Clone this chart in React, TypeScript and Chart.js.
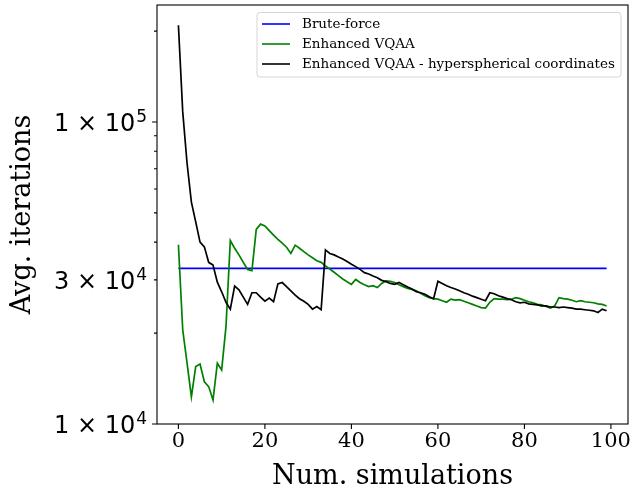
import React, { useEffect, useRef } from "react";
import { Chart, registerables } from "chart.js";

Chart.register(...registerables);

// ---------- data ----------
const simulations: number[] = Array.from({ length: 100 }, (_, i) => i);

const bruteForceValue = 32768;

const enhancedVQAA: number[] = [
  39200, 20500, 15900, 12300, 15500, 15800, 13800, 13300, 12000, 15900,
  15100, 21000, 40500, 38200, 36300, 34300, 32500, 32200, 44100, 45900,
  45300, 43700, 42200, 40900, 39700, 38500, 36700, 39100, 38200, 37200,
  36300, 35500, 34700, 34300, 33400, 32600, 31800, 31000, 30200, 29600,
  29000, 30100, 29400, 28900, 28500, 28700, 28300, 29200, 29800, 29700,
  29400, 28900, 28500, 28100, 27900, 27600, 27100, 26600, 26200, 26000,
  25900, 25600, 25300, 25900, 25700, 25800, 25500, 25200, 24900, 24600,
  24300, 24200, 25300, 26000, 25900, 25900, 25800, 25900, 26200, 26000,
  25700, 25400, 25200, 24900, 24800, 24500, 24200, 24600, 26200, 26000,
  25900, 25700, 25400, 25600, 25400, 25300, 25200, 25000, 24900, 24600,
];

const hypersphericalVQAA: number[] = [
  209000, 108000, 73000, 54300, 46700, 40000, 38600, 34300, 33600, 29500,
  27400, 25300, 24000, 28600, 27800, 26300, 24900, 27200, 27200, 26300,
  25500, 26100, 25400, 29100, 29400, 28500, 27600, 26700, 26000, 25500,
  24900, 24000, 24500, 23900, 37700, 36700, 36300, 35700, 35200, 34500,
  33800, 33200, 32500, 31700, 31400, 30900, 30500, 29900, 29600, 29200,
  29000, 29400, 28900, 28400, 28000, 27400, 27200, 26900, 26400, 26000,
  29700, 29200, 28700, 28300, 28000, 27600, 27200, 26900, 26500, 26200,
  25900, 25600, 27200, 27000, 26600, 26300, 26000, 25800, 25400, 25200,
  25300, 25000, 24900, 24800, 24600, 24600, 24400, 24400, 24300, 24400,
  24300, 24200, 24000, 24000, 23900, 23800, 23700, 23400, 24000, 23700,
];

const seriesLabels = [
  "Brute-force",
  "Enhanced VQAA",
  "Enhanced VQAA - hyperspherical coordinates",
];
const seriesColors = ["#0000ff", "#008000", "#000000"];

const xTickValues = [0, 20, 40, 60, 80, 100];
const yTickValues = [
  10000, 20000, 30000, 40000, 50000, 60000, 70000, 80000, 90000, 100000, 200000,
];
const yMajorTicks = [10000, 100000];
// labelled y ticks: value, mantissa text, exponent text
const yLabelValues = [10000, 30000, 100000];
const yLabelMantissas = ["1 × 10", "3 × 10", "1 × 10"];
const yLabelExponents = ["4", "4", "5"];

const xTitle = "Num. simulations";
const yTitle = "Avg. iterations";

// ---------- decoration plugin (frame, tick marks, y labels, legend) ----------
const decorPlugin = {
  id: "decor",
  afterDraw(chart: any) {
    const { ctx, chartArea: a, scales } = chart;
    const xs = scales.x;
    const ys = scales.y;
    ctx.save();
    ctx.strokeStyle = "#000";
    ctx.lineWidth = 1.1;
    ctx.strokeRect(a.left, a.top, a.right - a.left, a.bottom - a.top);

    ctx.beginPath();
    xTickValues.forEach((v) => {
      const px = xs.getPixelForValue(v);
      ctx.moveTo(px, a.bottom);
      ctx.lineTo(px, a.bottom + 5);
    });
    yTickValues.forEach((v) => {
      const py = ys.getPixelForValue(v);
      const len = yMajorTicks.includes(v) ? 5 : 3;
      ctx.moveTo(a.left, py);
      ctx.lineTo(a.left - len, py);
    });
    ctx.stroke();

    // y tick labels (mantissa × 10^exponent)
    ctx.fillStyle = "#000";
    ctx.textBaseline = "alphabetic";
    ctx.textAlign = "left";
    const baseFont = '24px "DejaVu Sans"';
    const expFont = '17px "DejaVu Sans"';
    yLabelValues.forEach((v, i) => {
      const py = ys.getPixelForValue(v);
      ctx.font = expFont;
      const ew = ctx.measureText(yLabelExponents[i]).width;
      ctx.font = baseFont;
      const bw = ctx.measureText(yLabelMantissas[i]).width;
      const right = a.left - 10;
      const startX = right - ew - 1 - bw;
      const baseline = py + 8.7;
      ctx.fillText(yLabelMantissas[i], startX, baseline);
      ctx.font = expFont;
      ctx.fillText(yLabelExponents[i], startX + bw + 1, baseline - 9);
    });

    // legend
    const boxRight = a.right - 7;
    const boxTop = a.top + 7.5;
    const boxW = 364;
    const boxH = 64.5;
    const boxLeft = boxRight - boxW;
    ctx.beginPath();
    if ((ctx as any).roundRect) {
      (ctx as any).roundRect(boxLeft, boxTop, boxW, boxH, 3);
    } else {
      ctx.rect(boxLeft, boxTop, boxW, boxH);
    }
    ctx.fillStyle = "rgba(255,255,255,0.8)";
    ctx.fill();
    ctx.strokeStyle = "rgba(204,204,204,0.8)";
    ctx.lineWidth = 1;
    ctx.stroke();

    ctx.font = '13.5px "DejaVu Serif"';
    ctx.textBaseline = "middle";
    ctx.textAlign = "left";
    chart.data.datasets.forEach((ds: any, i: number) => {
      const rowY = boxTop + 11.5 + i * 20;
      ctx.beginPath();
      ctx.strokeStyle = ds.borderColor;
      ctx.lineWidth = 1.6;
      ctx.moveTo(boxLeft + 5, rowY);
      ctx.lineTo(boxLeft + 33, rowY);
      ctx.stroke();
      ctx.fillStyle = "#000";
      ctx.fillText(ds.label, boxLeft + 45, rowY + 0.5);
    });
    ctx.restore();
  },
};

export default function App() {
  const canvasRef = useRef<HTMLCanvasElement | null>(null);

  useEffect(() => {
    if (!canvasRef.current) return;
    const mk = (vals: number[]) => simulations.map((s, i) => ({ x: s, y: vals[i] }));
    const bruteForce = simulations.map((s) => ({ x: s, y: bruteForceValue }));

    const chart = new Chart(canvasRef.current, {
      type: "line",
      data: {
        datasets: [
          {
            label: seriesLabels[0],
            data: bruteForce,
            borderColor: seriesColors[0],
            borderWidth: 1.7,
            pointRadius: 0,
            order: 3,
          },
          {
            label: seriesLabels[1],
            data: mk(enhancedVQAA),
            borderColor: seriesColors[1],
            borderWidth: 1.7,
            pointRadius: 0,
            order: 2,
          },
          {
            label: seriesLabels[2],
            data: mk(hypersphericalVQAA),
            borderColor: seriesColors[2],
            borderWidth: 1.7,
            pointRadius: 0,
            order: 1,
          },
        ],
      },
      options: {
        animation: false,
        responsive: false,
        maintainAspectRatio: false,
        layout: { padding: { top: 5, right: 14, left: 0, bottom: 0 } },
        plugins: {
          legend: { display: false },
          tooltip: { enabled: false },
        },
        elements: { line: { tension: 0 } },
        scales: {
          x: {
            type: "linear",
            min: -4.95,
            max: 103.95,
            grid: { display: false, drawTicks: false },
            border: { display: false },
            afterBuildTicks: (scale: any) => {
              scale.ticks = xTickValues.map((v) => ({ value: v }));
            },
            afterFit: (scale: any) => {
              scale.height = 65;
              scale.paddingLeft = 0;
              scale.paddingRight = 0;
              scale.paddingTop = 0;
              scale.paddingBottom = 0;
            },
            ticks: {
              autoSkip: false,
              maxRotation: 0,
              padding: 5,
              color: "#000",
              font: { family: "DejaVu Serif", size: 21 },
              callback: (v: any) => String(v),
            },
            title: {
              display: true,
              text: xTitle,
              color: "#000",
              font: { family: "DejaVu Serif", size: 27, lineHeight: 1 },
              padding: { top: 0, bottom: -1.5 },
            },
          },
          y: {
            type: "logarithmic",
            min: 10000,
            max: 244000,
            grid: { display: false, drawTicks: false },
            border: { display: false },
            afterBuildTicks: (scale: any) => {
              scale.ticks = yTickValues.map((v) => ({ value: v }));
            },
            afterFit: (scale: any) => {
              scale.width = 157;
              scale.paddingLeft = 0;
              scale.paddingRight = 0;
              scale.paddingTop = 0;
              scale.paddingBottom = 0;
            },
            ticks: {
              display: false,
            },
            title: {
              display: true,
              text: yTitle,
              color: "#000",
              font: { family: "DejaVu Serif", size: 27, lineHeight: 1 },
              padding: { top: 9.5, bottom: 0 },
            },
          },
        },
      },
      plugins: [decorPlugin],
    });
    return () => chart.destroy();
  }, []);

  return (
    <div style={{ position: "absolute", left: 0, top: 0, width: 642, height: 489 }}>
      <canvas ref={canvasRef} width={642} height={489} style={{ display: "block" }} />
    </div>
  );
}
